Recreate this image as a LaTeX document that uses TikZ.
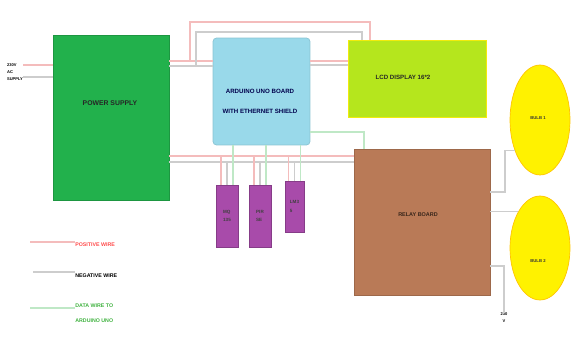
\documentclass[tikz,border=0pt]{standalone}
\usepackage{fontspec}
\setmainfont{Liberation Sans}
\usetikzlibrary{shapes.geometric}
\definecolor{psgreen}{HTML}{22B14C}
\definecolor{unoblue}{HTML}{99D9EA}
\definecolor{lcdgreen}{HTML}{B5E61D}
\definecolor{relaybrown}{HTML}{B97A57}
\definecolor{sensorpurple}{HTML}{A84BAA}
\definecolor{bulbyellow}{HTML}{FFF200}
\definecolor{poscol}{HTML}{F4BCBC}
\definecolor{negcol}{HTML}{CDCDCD}
\definecolor{datcol}{HTML}{BFE8C6}

\begin{document}
\begin{tikzpicture}[x=0.02cm,y=-0.02cm,
  every node/.style={font=\fontsize{3.5}{4}\selectfont\bfseries, inner sep=0pt},
  blk/.style={draw=#1!85!black, fill=#1, line width=0.4pt, align=center},
  bulb/.style={ellipse, draw=orange!40!bulbyellow, fill=bulbyellow, line width=0.4pt,
    minimum width=1.2cm},
  sensor/.style={draw=sensorpurple!80!black, fill=sensorpurple, line width=0.3pt,
    align=left, font=\fontsize{2.6}{5}\selectfont\bfseries, text=black!75},
  pwire/.style={draw=poscol, line width=0.6pt},
  nwire/.style={draw=negcol, line width=0.6pt},
  dwire/.style={draw=datcol, line width=0.6pt},
  small/.style={font=\fontsize{2.3}{4}\selectfont\bfseries, align=left}]
\useasboundingbox (0,0) rectangle (571,344);

% blocks
\node[blk=psgreen, minimum width=2.32cm, minimum height=3.3cm] (psu) at (111,117.5) {};
\node[font=\fontsize{3.9}{4}\selectfont\bfseries, text=black!85] at (110,103) {POWER SUPPLY};
\node[blk=unoblue, draw=unoblue!90!black, rounded corners=2pt, minimum width=1.94cm,
  minimum height=2.14cm] (uno) at (261.5,91.5) {};
\node[font=\fontsize{3.5}{11.5}\selectfont\bfseries, align=center, text=black!70!blue]
  at (260,101) {ARDUINO UNO BOARD\\WITH ETHERNET SHIELD};
\node[blk=lcdgreen, draw=yellow!80!lcdgreen, minimum width=2.76cm, minimum height=1.54cm]
  (lcd) at (417,78.5) {};
\node[text=black!85] at (403,77) {LCD DISPLAY 16*2};
\node[blk=relaybrown, minimum width=2.72cm, minimum height=2.92cm] (relay) at (422,222) {};
\node[font=\fontsize{3.1}{4}\selectfont\bfseries, text=black!70!relaybrown] at (418,215) {RELAY BOARD};
\node[bulb, minimum height=2.2cm] (b1) at (540,120) {};
\node[font=\fontsize{2.4}{4}\selectfont\bfseries, text=black!80] at (538,118) {BULB 1};
\node[bulb, minimum height=2.08cm] (b2) at (540,248) {};
\node[font=\fontsize{2.4}{4}\selectfont\bfseries, text=black!80] at (538,261) {BULB 2};

% sensors
\node[sensor, minimum width=0.44cm, minimum height=1.24cm] (mq) at (227,216) {MQ\\135};
\node[sensor, minimum width=0.44cm, minimum height=1.24cm] (pir) at (260,216) {PIR\\SE};
\node[sensor, minimum width=0.38cm, minimum height=1.02cm] (lm) at (294.5,206.5) {LM3\\5};

% supply in and out
\node[small] (ac) at (15,72) {230V\\AC\\SUPPLY};
\node[small, align=center] (mains) at (504,318) {230\\V};

% wires
\draw[pwire] (ac.east |- 0,65) -- (psu.west |- 0,65);
\draw[nwire] (ac.east |- 0,77) -- (psu.west |- 0,77);
\draw[pwire] (psu.east |- 0,61) -- (uno.west |- 0,61);
\draw[nwire] (psu.east |- 0,66) -- (uno.west |- 0,66);
\draw[pwire] (190,61) |- (370,22) -- (lcd.north -| 370,0);
\draw[nwire] (196,66) |- (362,32) -- (lcd.north -| 362,0);
\draw[pwire] (uno.east |- 0,61) -- (lcd.west |- 0,61);
\draw[nwire] (uno.east |- 0,65) -- (lcd.west |- 0,65);
\draw[dwire] (uno.east |- 0,132) -| (relay.north -| 364,0);
\draw[pwire] (psu.east |- 0,156) -- (relay.west |- 0,156);
\draw[nwire] (psu.east |- 0,162) -- (relay.west |- 0,162);
\foreach \s/\c in {mq/227,pir/260,lm/294.5} {
  \draw[pwire] ({\c-6},156) -- (\s.north -| {\c-6},0);
  \draw[nwire] (\c,162) -- (\s.north -| \c,0);
  \draw[dwire] (uno.south -| {\c+6},0) -- (\s.north -| {\c+6},0);
}
\draw[nwire] (relay.east |- 0,192) -| (b1.230 -| 505,0) -- (b1.230);
\draw[nwire] (relay.east |- b2.121) -- (b2.121);
\draw[nwire] (relay.east |- 0,266) -| (mains.north);

% legend
\node[font=\fontsize{3.0}{4}\selectfont\bfseries, text=red!70, anchor=west] (lpos) at (75,245) {POSITIVE WIRE};
\node[font=\fontsize{3.0}{4}\selectfont\bfseries, anchor=west] (lneg) at (75,276) {NEGATIVE WIRE};
\node[font=\fontsize{3.0}{8.5}\selectfont\bfseries, text=green!60!black!75, anchor=west, align=left]
  (ldat) at (75,313) {DATA WIRE TO\\ARDUINO UNO};
\coordinate (lp) at (30,242);
\coordinate (ln) at (33,272);
\coordinate (ld) at (30,308);
\draw[pwire] (lp) -- (lpos.west |- lp);
\draw[nwire] (ln) -- (lneg.west |- ln);
\draw[dwire] (ld) -- (ldat.west |- ld);
\end{tikzpicture}
\end{document}
